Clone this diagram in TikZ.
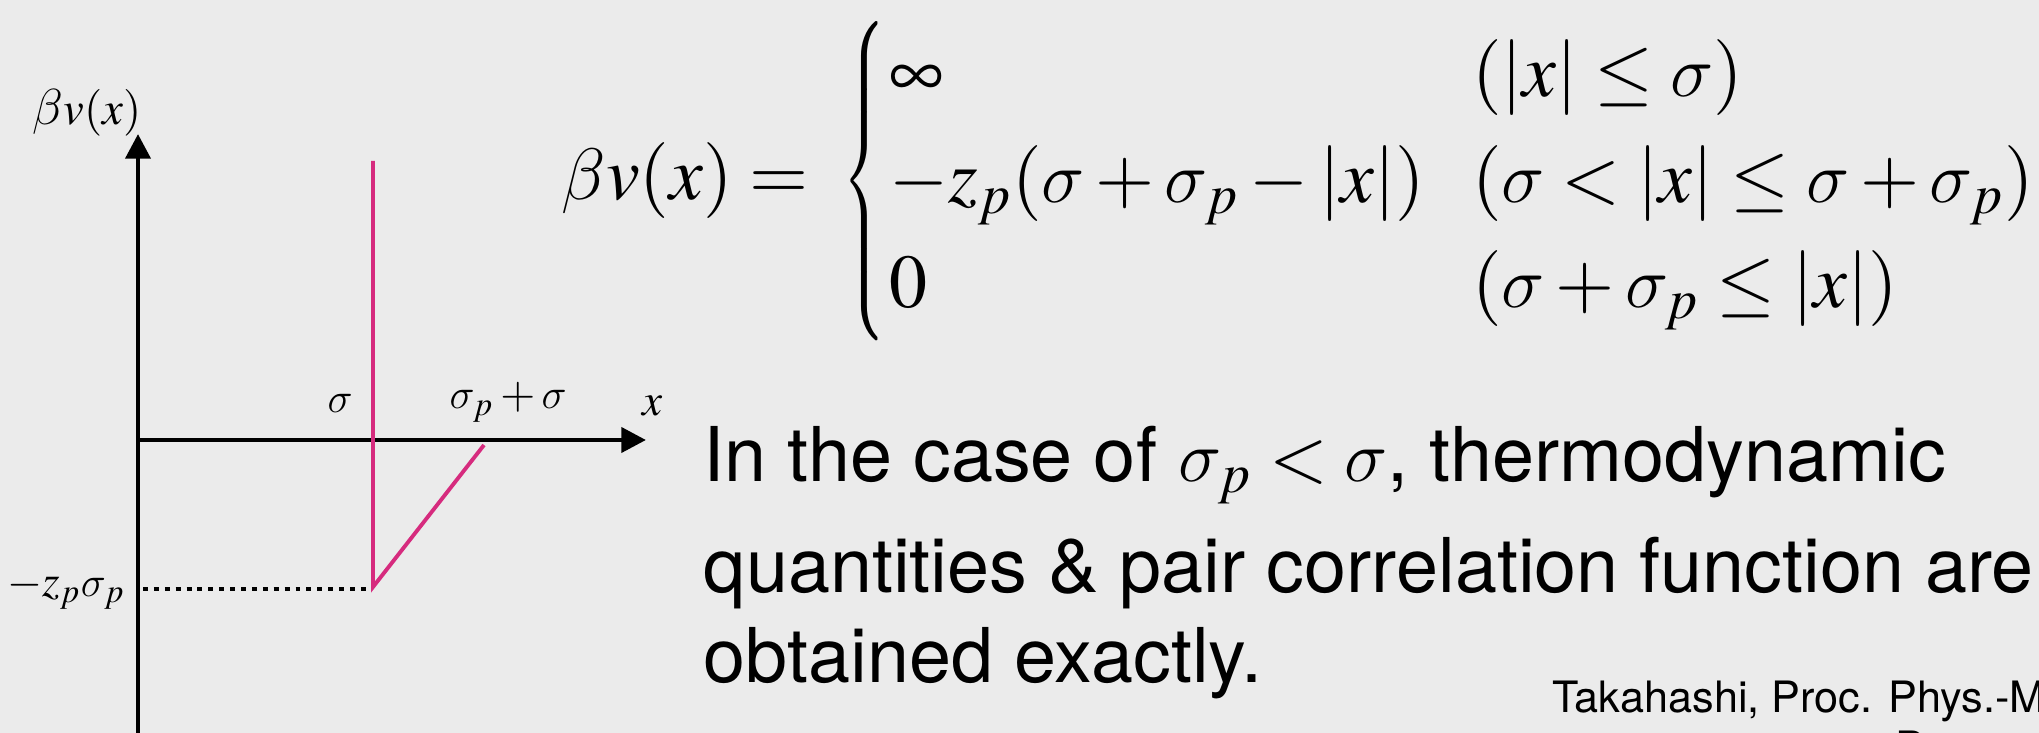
\documentclass[tikz,border=0pt]{standalone}
\usepackage{amsmath}
\usepackage{graphicx}
\usepackage{mathptmx}
\DeclareSymbolFont{cmletters}{OML}{cmm}{m}{it}
\DeclareMathSymbol{\sigma}{\mathord}{cmletters}{"1B}
\DeclareMathSymbol{\beta}{\mathord}{cmletters}{"0C}
\usepackage[no-math]{fontspec}
\setmainfont{TeX Gyre Heros}
\usetikzlibrary{arrows.meta}
\definecolor{slidebg}{RGB}{235,235,235}
\definecolor{potpink}{RGB}{214,43,126}
% the three branches of the potential
\newcommand{\potrows}{\renewcommand{\arraystretch}{1.15}\begin{array}{@{}l@{\hspace{13.5pt}}l@{}}
    \infty & (|x|\le\sigma)\\
    -z_p(\sigma+\sigma_p-|x|) & (\sigma<|x|\le\sigma+\sigma_p)\\
    0 & (\sigma+\sigma_p\le|x|)
  \end{array}}

\begin{document}
\begin{tikzpicture}[x=0.1mm, y=-0.1mm,
  axis/.style={line width=1.4pt, -{Triangle[length=7pt,width=7pt]}},
  pot/.style={potpink, line width=1.1pt},
  lbl/.style={inner sep=0pt, font=\fontsize{12.8}{15}\selectfont},
  body/.style={inner sep=0pt, anchor=base west, font=\fontsize{21.5}{25}\selectfont}]
\useasboundingbox (0,0) rectangle (2039,733);
\fill[slidebg] (0,0) rectangle (2039,733);
\clip (0,0) rectangle (2039,733);
% axes
\draw[axis] (138,760) -- (138,134);
\draw[axis] (138,440) -- (646,440);
% potential
\draw[pot] (373,161) -- (373,587) -- (484,445);
\draw[line width=1.4pt, dash pattern=on 1.4pt off 1.7pt] (143,589) -- (371,589);
\node[lbl, anchor=base, font=\fontsize{13.3}{15}\selectfont] (ylab) at (87,125) {$\beta v(x)$};
\node[lbl, anchor=base] (sig) at (340,413) {$\sigma$};
\node[lbl, anchor=base west] (sigp) at (449,409) {$\sigma_p+\sigma$};
\node[lbl, anchor=base] (xlab) at (653,415) {$x$};
\node[lbl, anchor=base east] (zlab) at (126,596) {$-z_p\sigma_p$};
% equation
\node[inner sep=0pt, anchor=base west, font=\fontsize{21.6}{26}\selectfont] (eqn) at (561,200)
  {$\beta v(x) =\hspace{5pt}\scalebox{0.65}[1]{$\left\{\vphantom{\potrows}\right.$}\hspace{0pt}\potrows$};
% text
\node[body] (line1) at (703,481) {In the case of $\sigma_p<\sigma$, thermodynamic};
\node[body] (line2) at (703,592) {quantities \& pair correlation function are};
\node[body] (line3) at (703,682) {obtained exactly.};
\node[inner sep=0pt, anchor=base west, font=\fontsize{12.3}{15}\selectfont] (cite) at (1552,712) {Takahashi, Proc. Phys.-Ma};
\node[inner sep=0pt, anchor=base west, font=\fontsize{12.3}{15}\selectfont] (cite2) at (1895,762) {P};
\end{tikzpicture}
\end{document}
